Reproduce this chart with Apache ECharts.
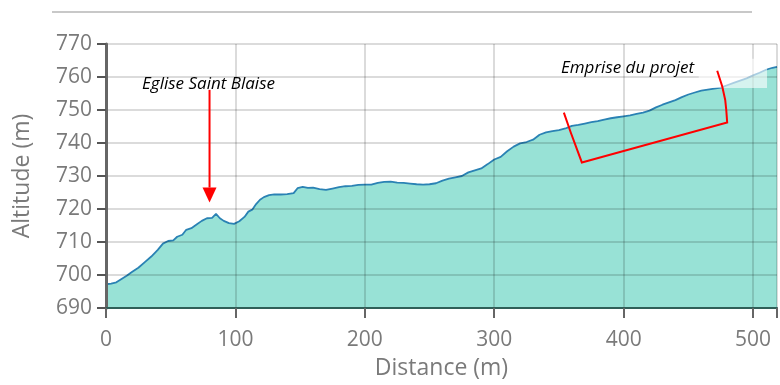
<!DOCTYPE html>
<html>
<head>
<meta charset="utf-8">
<script src="https://cdn.jsdelivr.net/npm/echarts@6/dist/echarts.min.js"></script>
<style>
  html, body { margin: 0; padding: 0; background: #fff; }
  #chart { width: 780px; height: 385px; }
</style>
</head>
<body>
<div id="chart"></div>
<script>
// Elevation profile: distance along the route (m) and altitude (m)
const distances = [0, 4, 8, 12, 16, 20, 25, 30, 35, 40, 44, 48, 52, 55, 59, 62, 66, 70, 74, 78,
  82, 85, 88, 91, 95, 99, 103, 107, 110, 113, 116, 119, 122, 126, 130, 135, 140, 145, 148, 152,
  156, 160, 165, 170, 175, 180, 185, 190, 195, 200, 205, 210, 215, 220, 225, 230, 235, 240, 245, 250,
  255, 260, 265, 270, 275, 280, 285, 290, 295, 300, 305, 310, 315, 320, 325, 330, 335, 340, 345, 350,
  355, 360, 365, 370, 375, 380, 385, 390, 395, 400, 405, 410, 415, 420, 425, 430, 435, 440, 445, 450,
  455, 460, 465, 470, 475, 480, 485, 490, 495, 500, 505, 510, 515, 518.5];
const altitudes = [697.2, 697.4, 697.8, 698.8, 699.8, 700.9, 702.2, 703.9, 705.6, 707.6, 709.5, 710.3, 710.5, 711.6, 712.2, 713.7, 714.2, 715.3, 716.4, 717.2,
  717.3, 718.5, 717.2, 716.4, 715.7, 715.5, 716.3, 717.6, 719.2, 719.8, 721.5, 722.8, 723.6, 724.2, 724.4, 724.4, 724.5, 724.8, 726.3, 726.7,
  726.4, 726.5, 726.0, 725.8, 726.2, 726.6, 726.9, 727.0, 727.3, 727.4, 727.4, 727.9, 728.2, 728.3, 728.0, 727.9, 727.7, 727.5, 727.4, 727.5,
  727.8, 728.6, 729.2, 729.6, 730.0, 731.1, 731.7, 732.3, 733.6, 735.0, 735.8, 737.5, 738.9, 739.9, 740.3, 741.0, 742.5, 743.2, 743.6, 743.9,
  744.4, 745.2, 745.5, 745.9, 746.3, 746.6, 747.1, 747.5, 747.8, 748.1, 748.4, 748.8, 749.2, 749.8, 750.8, 751.6, 752.3, 753.0, 753.9, 754.7,
  755.3, 755.9, 756.2, 756.5, 756.8, 757.5, 758.2, 758.9, 759.6, 760.5, 761.3, 762.2, 762.8, 763.1];

// Axis ranges and tick steps
const xRange = [0, 518.5];
const xStep = 100;
const yRange = [690, 770];
const yStep = 10;

// Annotation texts
const churchLabel = 'Eglise Saint Blaise';
const projectLabel = 'Emprise du projet';
// Church location along the profile (distance, altitude of arrow top / tip)
const churchArrow = { d: 80, top: 756.1, base: 726.5, tip: 722 };
// Outline of the project footprint in data coordinates
const projectOutline = [[353.8, 749.2], [359.2, 743.1], [367.7, 734.1], [480, 746.2],
  [479.3, 750.0], [478.5, 753.0], [476.2, 757.1], [472.3, 761.9]];

const FONT = '"Open Sans", "DejaVu Sans", sans-serif';
const chart = echarts.init(document.getElementById('chart'), null, { renderer: 'canvas' });

chart.setOption({
  animation: false,
  backgroundColor: '#ffffff',
  grid: { left: 106, right: 0, top: 44, bottom: 76, containLabel: false },
  xAxis: {
    type: 'value',
    min: xRange[0], max: xRange[1], interval: xStep,
    z: 5,
    name: 'Distance (m)',
    nameLocation: 'middle',
    nameGap: 49,
    nameTextStyle: { color: '#7a7a7a', fontSize: 23, fontFamily: FONT },
    axisLine: { show: true, onZero: false, lineStyle: { color: '#2f5f58', width: 2 } },
    axisTick: { show: true, length: 10, lineStyle: { color: '#666', width: 2 } },
    axisLabel: {
      color: '#7a7a7a', fontSize: 21, fontFamily: FONT, margin: 22,
      formatter: v => (v % xStep === 0 ? String(v) : '')
    },
    splitLine: { show: true, lineStyle: { color: 'rgba(0,0,0,0.14)', width: 2 } }
  },
  yAxis: {
    type: 'value',
    min: yRange[0], max: yRange[1], interval: yStep,
    z: 5,
    name: 'Altitude (m)',
    nameLocation: 'middle',
    nameGap: 72,
    nameTextStyle: { color: '#7a7a7a', fontSize: 23, fontFamily: FONT },
    axisLine: { show: true, lineStyle: { color: '#666', width: 3 } },
    axisTick: { show: true, length: 9, lineStyle: { color: '#555', width: 2 } },
    axisLabel: { color: '#7a7a7a', fontSize: 21, fontFamily: FONT, margin: 14 },
    splitLine: { show: true, lineStyle: { color: 'rgba(0,0,0,0.14)', width: 2 } }
  },
  series: [{
    type: 'line',
    data: distances.map((d, i) => [d, altitudes[i]]),
    showSymbol: false,
    smooth: false,
    z: 2,
    lineStyle: { color: '#2a82b4', width: 1.8 },
    areaStyle: { color: '#98e2d6', opacity: 1 }
  }]
});

// Annotations, placed from data coordinates
const px = (d, v) => chart.convertToPixel({ gridIndex: 0 }, [d, v]);
const aTop = px(churchArrow.d, churchArrow.top);
const aBase = px(churchArrow.d, churchArrow.base);
const aTip = px(churchArrow.d, churchArrow.tip);
const churchText = px(79.2, 757.8);
const projectText = px(403, 762.6);
const haze0 = px(458, 765.5);
const haze1 = px(510.8, 756.7);
const outlinePts = projectOutline.map(p => px(p[0], p[1]));

chart.setOption({
  graphic: [
    { type: 'line', shape: { x1: 52, y1: 12, x2: 752, y2: 12 },
      style: { stroke: '#c8c8c8', lineWidth: 2 }, z: 10 },
    { type: 'rect', shape: { x: haze0[0], y: haze0[1], width: haze1[0] - haze0[0], height: haze1[1] - haze0[1] },
      style: { fill: 'rgba(255,255,255,0.6)' }, z: 20 },
    { type: 'text', x: churchText[0], y: churchText[1], z: 30,
      style: { text: churchLabel, fill: '#000', font: 'italic 17px ' + FONT, align: 'center', verticalAlign: 'middle' } },
    { type: 'text', x: projectText[0], y: projectText[1], z: 30,
      style: { text: projectLabel, fill: '#000', font: 'italic 17px ' + FONT, align: 'center', verticalAlign: 'middle' } },
    { type: 'line', shape: { x1: aTop[0], y1: aTop[1], x2: aBase[0], y2: aBase[1] },
      style: { stroke: '#ff0000', lineWidth: 2 }, z: 30 },
    { type: 'polygon', shape: { points: [[aBase[0] - 7, aBase[1]], [aBase[0] + 7, aBase[1]], [aTip[0], aTip[1]]] },
      style: { fill: '#ff0000' }, z: 30 },
    { type: 'polyline', shape: { points: outlinePts },
      style: { stroke: '#ff0000', lineWidth: 2, fill: null }, z: 30 }
  ]
});
</script>
</body>
</html>
